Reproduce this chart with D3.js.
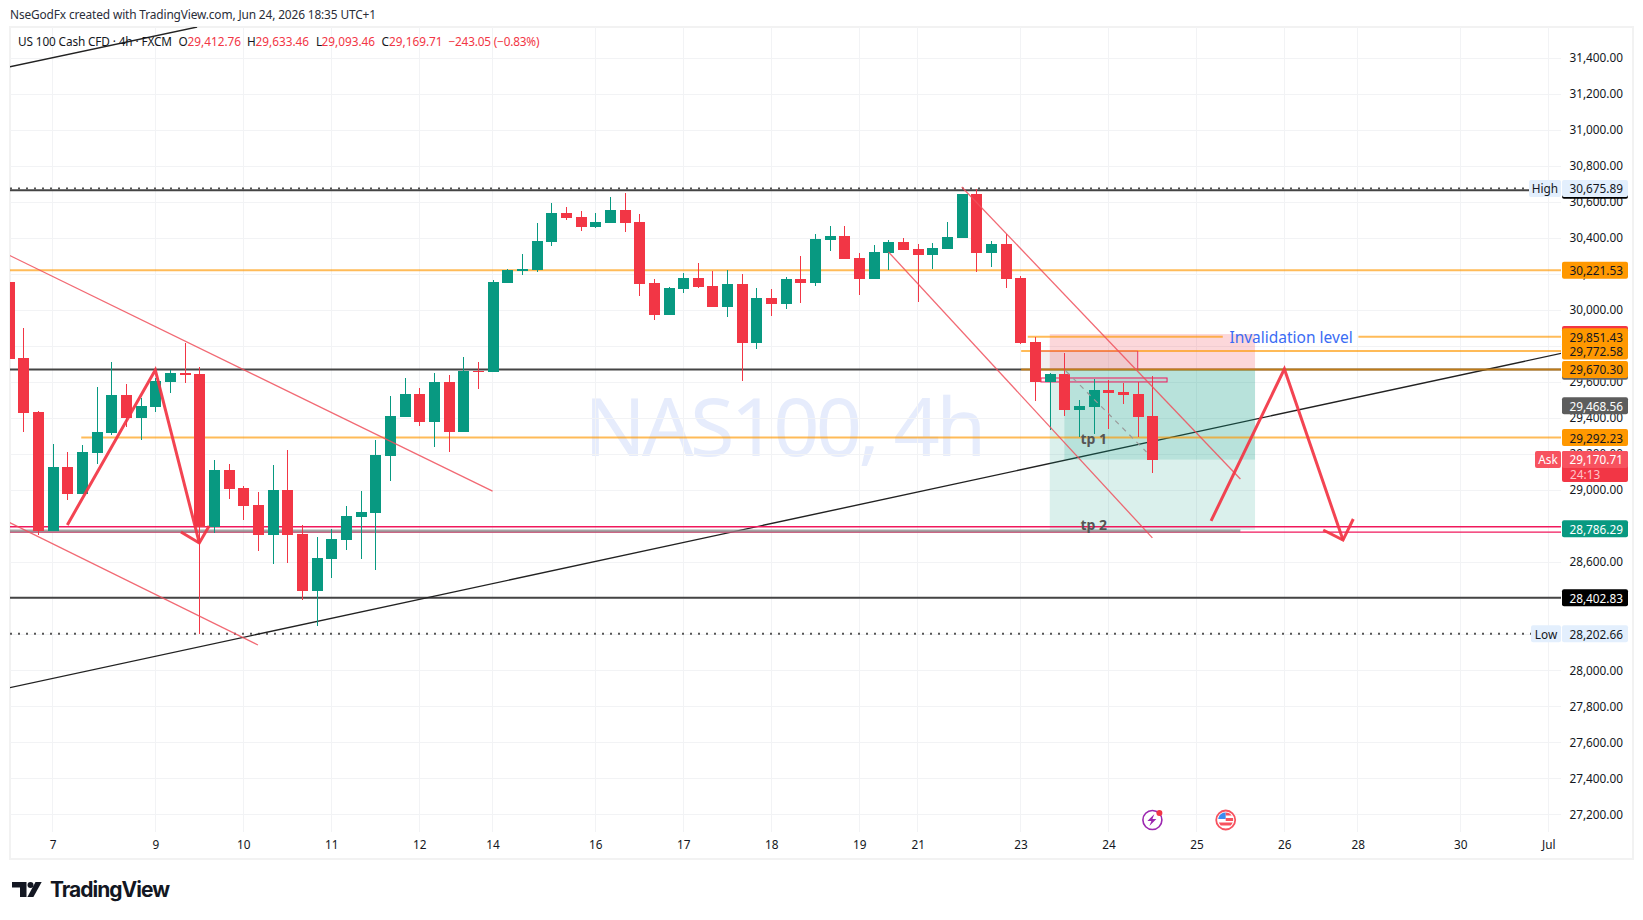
<!DOCTYPE html>
<html><head><meta charset="utf-8">
<script src="https://cdn.jsdelivr.net/npm/d3@7"></script>
<style>
html,body{margin:0;padding:0;background:#fff;overflow:hidden}
svg{display:block}
text{font-family:"Noto Sans",sans-serif}
</style></head><body>
<svg id="c" width="1643" height="920"></svg>
<script>
const barIndex = d3.range(-1,78);
const opens = [30156,29734,29434,28773,29129,28979,29206,29318,29529,29401,29462,29601,29651,29645,28796,29112,29012,28918,28751,29001,28757,28440,28618,28723,28851,28873,29190,29406,29534,29379,29601,29323,29662,29656,
30150,30217,30223,30378,30539,30517,30461,30484,30556,30489,30150,29973,30117,30178,30134,30017,30145,29817,30067,30034,30173,30150,30389,30411,30289,30173,30317,30378,30339,30306,30339,30400,30645,30317,30367,30178,29823,29601,29645,29445,29462,29556,29545,29534,29412.76];
const highs = [30156,29901,29440,29256,29212,29251,29573,29712,29590,29512,29623,29667,29817,29684,29168,29145,29023,28990,29140,29223,28807,28740,28785,28912,28996,29279,29523,29623,29567,29651,29640,29740,29712,30167,
30228,30312,30484,30595,30573,30550,30539,30628,30650,30534,30173,30128,30206,30262,30217,30223,30200,30123,30117,30184,30300,30423,30467,30467,30317,30362,30389,30400,30367,30373,30489,30645,30672,30384,30423,30189,29851,29651,29762,29501,29617,29612,29595,29601,29633.46];
const lows = [29730,29323,28751,28773,28945,28979,29145,29306,29351,29279,29434,29540,29595,28201,28762,28951,28834,28662,28590,28596,28390,28246,28512,28668,28618,28557,29051,29406,29356,29240,29212,29323,29562,29656,
30150,30195,30212,30356,30500,30439,30456,30484,30434,30078,29945,29973,30095,30123,30017,29962,29606,29784,29967,30006,30039,30134,30328,30284,30084,30173,30223,30334,30045,30228,30339,30400,30212,30239,30123,29812,29495,29334,29412,29295,29312,29340,29479,29295,29093.46];
const closes = [29730,29429,28773,29129,28979,29212,29323,29529,29401,29468,29606,29651,29640,28796,29112,29007,28912,28751,29001,28751,28440,28623,28729,28857,28879,29195,29412,29534,29379,29601,29323,29662,29656,30156,
30223,30228,30384,30539,30511,30461,30489,30556,30484,30145,29973,30123,30178,30128,30017,30145,29817,30067,30034,30173,30150,30395,30411,30284,30173,30323,30378,30334,30306,30345,30406,30645,30317,30367,30173,29817,29601,29645,29445,29467,29556,29540,29528,29406,29169.71];

const priceTicks = d3.range(27200,31401,200);
const dayTickBars = [2,9,15,21,27,32,39,45,51,57,61,68,74,80,86,91,98,104];
const dayTickLabels = ["7","9","10","11","12","14","16","17","18","19","21","23","24","25","26","28","30","Jul"];

const blackLevels = [30665,29670.3,28402.83];
const orangeFull = [30221.53,29292.23,29772.58,29670.3];
const orangeStart = [-1,3.95,68.05,68.05];
const invalidLevel = 29851.43;
const invalidSegs = [[68.5,81.8],[91.05,105]];
const highLow = [30675.89,28202.66];
const pinkLevels = [28797,28767];
const grayLevel = 28773;
const grayEnd = 83;

const trendRed = [[-1,30306,32,28995],[-1,28823,16,28140],[64,30684,83,29062],[59,30323,77,28735]];
const trendBlack = [[-1,27902,105,29762],[-1,31350,11.85,31572]];
const arrow1 = [[3,28807],[9,29667],[12,28707]];
const arrow1Head = [[10.75,28768],[12,28707],[12.67,28801]];
const arrow2 = [[81,28829],[86,29673],[90,28723]];
const arrow2Head = [[88.65,28779],[90,28723],[90.7,28840]];

const posBars = [70,84];
const posEntry = 29670.3, posStop = 29867, posTarget = 28779, posInner = 29170, posInnerBar = 71;
const boxA = [69.4,76,29772.58,29670.3];
const boxB = [69.4,78,29623,29601];
const dash = [71.1,29662,76.6,29212];

const svg = d3.select("#c");
const x = d3.scaleLinear().domain([0,104]).range([23.33,1548.3]);
const y = d3.scaleLinear().domain([31400,27200]).range([58,814.3]);
const paneL=10,paneR=1561,paneT=27,paneB=832;
const GREEN="#089981",RED="#f23645",ORANGE="#ff9800",PINK="#f0185c";

svg.append("defs").append("clipPath").attr("id","pane").append("rect")
  .attr("x",paneL).attr("y",paneT).attr("width",paneR-paneL).attr("height",paneB-paneT);
svg.append("rect").attr("x",10).attr("y",27).attr("width",1623).attr("height",832)
  .attr("fill","#fff").attr("stroke","#f2f2f2").attr("stroke-width",2);

const plot0 = svg.append("g");
plot0.append("text").attr("x",x(38.25)).attr("y",y(29190))
  .attr("font-size",81).attr("fill","#e6ecfc").attr("textLength",402).text("NAS100, 4h");

const grid = svg.append("g").attr("shape-rendering","crispEdges").attr("stroke","#f2f3f5");
grid.selectAll("line.h").data(priceTicks).join("line").attr("x1",paneL).attr("x2",paneR).attr("y1",d=>y(d)).attr("y2",d=>y(d));
grid.selectAll("line.v").data(dayTickBars).join("line").attr("x1",d=>x(d)).attr("x2",d=>x(d)).attr("y1",paneT).attr("y2",paneB);

const plot = svg.append("g").attr("clip-path","url(#pane)");

const hl=(g,p,a,b,col,w,op=1,dash)=>g.append("line").attr("x1",x(a)).attr("x2",x(b)).attr("y1",y(p)).attr("y2",y(p))
  .attr("stroke",col).attr("stroke-width",w).attr("opacity",op).attr("stroke-dasharray",dash||null);

blackLevels.forEach(p=>hl(plot,p,-2,106,"#444",2));
highLow.forEach(p=>hl(plot,p,-2,106,"#555",2,1,"2 6"));
trendBlack.forEach(t=>plot.append("line").attr("x1",x(t[0])).attr("y1",y(t[1])).attr("x2",x(t[2])).attr("y2",y(t[3])).attr("stroke","#222").attr("stroke-width",1.4));

// position tool
plot.append("rect").attr("x",x(posBars[0])).attr("width",x(posBars[1])-x(posBars[0])).attr("y",y(posStop)).attr("height",y(posEntry)-y(posStop)).attr("fill",RED).attr("opacity",.2);
plot.append("rect").attr("x",x(posBars[0])).attr("width",x(posBars[1])-x(posBars[0])).attr("y",y(posEntry)).attr("height",y(posTarget)-y(posEntry)).attr("fill",GREEN).attr("opacity",.15);
plot.append("rect").attr("x",x(posInnerBar)).attr("width",x(posBars[1])-x(posInnerBar)).attr("y",y(posEntry)).attr("height",y(posInner)-y(posEntry)).attr("fill",GREEN).attr("opacity",.16);
plot.append("rect").attr("x",x(boxA[0])).attr("width",x(boxA[1])-x(boxA[0])).attr("y",y(boxA[2])).attr("height",y(boxA[3])-y(boxA[2])).attr("fill","#8a5560").attr("opacity",.1);

orangeFull.forEach((p,i)=>hl(plot,p,orangeStart[i],106,ORANGE,2,.65));
invalidSegs.forEach(s=>hl(plot,invalidLevel,s[0],s[1],ORANGE,2,.65));
pinkLevels.forEach(p=>hl(plot,p,-2,106,PINK,1.3));
hl(plot,grayLevel,-2,grayEnd,"#888",3,.75);
plot.append("path").attr("d",`M${x(boxA[1])},${y(boxA[2])}V${y(boxA[3])}`).attr("fill","none").attr("stroke","#e8325f").attr("stroke-width",1);
plot.append("line").attr("x1",x(boxA[0])).attr("x2",x(boxA[1])).attr("y1",y(boxA[2])).attr("y2",y(boxA[2])).attr("stroke","#e8325f").attr("stroke-width",1).attr("opacity",.6);
plot.append("rect").attr("x",x(boxB[0])).attr("width",x(boxB[1])-x(boxB[0])).attr("y",y(boxB[2])).attr("height",y(boxB[3])-y(boxB[2])).attr("fill",PINK).attr("fill-opacity",.06).attr("stroke",PINK).attr("stroke-width",1);

// candles
const bars = barIndex.map((b,i)=>({b,o:opens[i],h:highs[i],l:lows[i],c:closes[i]}));
const cg = plot.append("g").attr("shape-rendering","crispEdges");
cg.selectAll("rect.wick").data(bars).join("rect").attr("x",d=>Math.round(x(d.b))-.5).attr("width",1)
  .attr("y",d=>y(d.h)).attr("height",d=>y(d.l)-y(d.h)).attr("fill",d=>d.c>=d.o?GREEN:RED);
cg.selectAll("rect.body").data(bars).join("rect").attr("x",d=>Math.round(x(d.b))-5.5).attr("width",11)
  .attr("y",d=>y(Math.max(d.o,d.c))).attr("height",d=>Math.max(1.5,Math.abs(y(d.o)-y(d.c)))).attr("fill",d=>d.c>=d.o?GREEN:RED);

plot.append("line").attr("x1",x(dash[0])).attr("y1",y(dash[1])).attr("x2",x(dash[2])).attr("y2",y(dash[3])).attr("stroke","#9a9a9a").attr("stroke-width",1.2).attr("stroke-dasharray","5 5");
trendRed.forEach(t=>plot.append("line").attr("x1",x(t[0])).attr("y1",y(t[1])).attr("x2",x(t[2])).attr("y2",y(t[3])).attr("stroke","#f0505c").attr("stroke-width",1.3).attr("opacity",.85));

const ln=d3.line().x(d=>x(d[0])).y(d=>y(d[1]));
[arrow1,arrow1Head,arrow2,arrow2Head].forEach(a=>plot.append("path").attr("d",ln(a)).attr("fill","none").attr("stroke",RED).attr("stroke-width",3).attr("opacity",.93).attr("stroke-linejoin","miter"));

// text notes
const note=(t,b,p,o)=>plot.append("text").attr("x",x(b)).attr("y",y(p)).attr("font-size",o.s).attr("font-weight",o.w||400).attr("fill",o.c).attr("text-anchor",o.a||"start").attr("dominant-baseline","middle").text(t);
note("tp 1",73,29278,{s:14,w:700,c:"#555",a:"middle"});
note("tp 2",73,28798,{s:14,w:700,c:"#555",a:"middle"});
note("Invalidation level",82.25,29841,{s:15.5,c:"#3a6cf4"});

// axes
const yAx = svg.append("g").attr("transform",`translate(1623,0)`).call(d3.axisRight(y).tickValues(priceTicks).tickSize(0).tickPadding(0).tickFormat(d3.format(",.2f")));
yAx.select(".domain").remove();
yAx.selectAll("text").attr("text-anchor","end").attr("font-size",11.8).attr("font-family",'"Noto Sans",sans-serif').attr("fill","#131722");
const xAx = svg.append("g").attr("transform",`translate(0,841)`).call(d3.axisBottom(x).tickValues(dayTickBars).tickSize(0).tickPadding(0).tickFormat((d,i)=>dayTickLabels[i]));
xAx.select(".domain").remove();
xAx.selectAll("text").attr("font-size",11.8).attr("font-family",'"Noto Sans",sans-serif').attr("fill","#131722");

// price labels
const lg = svg.append("g");
const tag=(p,bg,fg,txt)=>{
  const yc=y(p);
  lg.append("rect").attr("x",1562).attr("y",yc-8.5).attr("width",66).attr("height",17).attr("rx",2).attr("fill",bg);
  if(txt) lg.append("text").attr("x",1623).attr("y",yc).attr("text-anchor","end").attr("dominant-baseline","central").attr("font-size",11.8).attr("fill",fg).text(txt);
};
const fmt=d3.format(",.2f");
tag(30665,"#000");
tag(29865,RED);
tag(29660,"#666");
const labels=[[30675.89,"#e3effd","#131722"],[30221.53,ORANGE,"#131722"],[29851.43,ORANGE,"#131722"],[29772.58,ORANGE,"#131722"],[29670.3,ORANGE,"#131722"],[29468.56,"#5d5d5d","#fff"],[29292.23,ORANGE,"#131722"],[28786.29,GREEN,"#fff"],[28402.83,"#000","#fff"],[28202.66,"#e3effd","#131722"]];
labels.forEach(l=>tag(l[0],l[1],l[2],fmt(l[0])));
const side=(p,txt,w,bg,fg)=>{const yc=y(p);
  lg.append("rect").attr("x",1561-w).attr("y",yc-8.5).attr("width",w).attr("height",17).attr("rx",2).attr("fill",bg);
  lg.append("text").attr("x",1561-w/2).attr("y",yc).attr("text-anchor","middle").attr("dominant-baseline","central").attr("font-size",11.8).attr("fill",fg).text(txt);};
side(30675.89,"High",32,"#e3effd","#131722");
side(28202.66,"Low",30,"#e3effd","#131722");
// ask + countdown
const askPrice=29170.71;const ya=y(askPrice);
lg.append("rect").attr("x",1562).attr("y",ya-8.5).attr("width",66).attr("height",31).attr("rx",2).attr("fill",RED);
lg.append("rect").attr("x",1562).attr("y",ya-8.5).attr("width",66).attr("height",17).attr("rx",2).attr("fill","#f7525f");
lg.append("text").attr("x",1623).attr("y",ya).attr("text-anchor","end").attr("dominant-baseline","central").attr("font-size",11.8).attr("fill","#fff").text(fmt(askPrice));
lg.append("text").attr("x",1570).attr("y",ya+14.5).attr("dominant-baseline","central").attr("font-size",11.8).attr("fill","#ffc4c9").text("24:13");
side(askPrice,"Ask",26,"#f7525f","#fff");

// header + legend
svg.append("text").attr("x",10).attr("y",14.4).attr("dominant-baseline","central").attr("font-size",11.9).attr("fill","#2a2e39").attr("textLength",366).text("NseGodFx created with TradingView.com, Jun 24, 2026 18:35 UTC+1");
const legend=[["US 100 Cash CFD · 4h · FXCM",18,"#131722",154],["O",178.5,"#131722"],["29,412.76",187.5,RED],["H",247,"#131722"],["29,633.46",255.5,RED],["L",316,"#131722"],["29,093.46",321.5,RED],["C",381.5,"#131722"],["29,169.71",389,RED],["−243.05 (−0.83%)",448.5,RED,91]];
legend.forEach(l=>{const t=svg.append("text").attr("x",l[1]).attr("y",41).attr("dominant-baseline","central").attr("font-size",11.8).attr("fill",l[2]).text(l[0]);if(l[3])t.attr("textLength",l[3]);});

// event icons
const ev=svg.append("g").attr("transform",`translate(${x(77)},820)`);
ev.append("circle").attr("r",9.5).attr("fill","#fff").attr("stroke","#9c27b0").attr("stroke-width",1.6);
ev.append("path").attr("d","M2,-6 L-5,1 H-1 L-3,6 L4,-1 H0 Z").attr("fill","#9c27b0");
ev.append("circle").attr("cx",7).attr("cy",-7).attr("r",3).attr("fill",RED);
const fl=svg.append("g").attr("transform",`translate(${x(82)},820)`);
fl.append("circle").attr("r",9.5).attr("fill","#fff").attr("stroke","#f7525f").attr("stroke-width",1.8);
fl.append("path").attr("d","M-7.3,-2 A7.5,7.5 0 0 1 0,-7.5 V-1 H-7.5 Z").attr("fill","#3d8bf0");
fl.append("path").attr("d","M0,-7.5 A7.5,7.5 0 0 1 6,-4.5 H0 Z M0,-2 H7.4 V1 H0 Z M-7,2.5 H7 A7.5,7.5 0 0 1 5,5.5 H-5 Z").attr("fill","#f7525f");

// TradingView logo
const logo=svg.append("g").attr("fill","#131722");
logo.append("path").attr("d","M12,882H26.5V897H20V887.6H12Z");
logo.append("circle").attr("cx",30.5).attr("cy",885).attr("r",3);
logo.append("path").attr("d","M35.5,882H41.7L33.4,897H27.4Z");
svg.append("text").attr("x",50).attr("y",897).attr("font-size",21).attr("font-weight",700).attr("fill","#131722").attr("textLength",120).style("font-family","Inter,sans-serif").text("TradingView");
</script>
</body></html>
